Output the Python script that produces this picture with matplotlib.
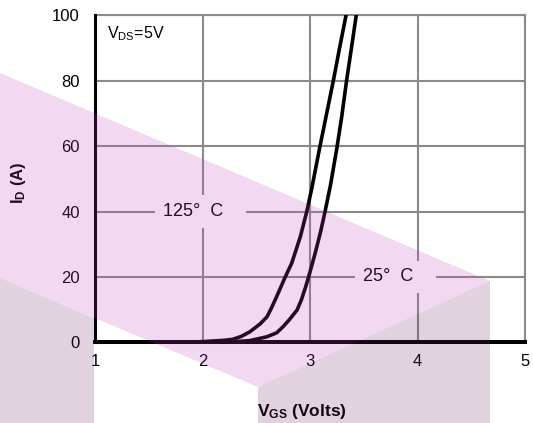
import numpy as np
import matplotlib
matplotlib.use('Agg')
import matplotlib.pyplot as plt
from matplotlib.patches import Polygon

plt.rcParams['font.family'] = ['Liberation Sans', 'DejaVu Sans']
plt.rcParams['mathtext.fontset'] = 'custom'
plt.rcParams['mathtext.rm'] = 'Liberation Sans'
plt.rcParams['mathtext.it'] = 'Liberation Sans'
plt.rcParams['mathtext.bf'] = 'Liberation Sans:bold'

# transfer curves
vgs_125 = [1.0, 1.8, 2.0, 2.2, 2.28, 2.36, 2.44, 2.535, 2.6, 2.64, 2.69, 2.73, 2.77, 2.83, 2.91, 2.97,
           3.016, 3.09, 3.155, 3.217, 3.275, 3.335, 3.35]
id_125 = [0, 0, 0.2, 0.6, 0.9, 1.8, 3.2, 5.6, 7.8, 10.4, 14, 17, 20, 24.2, 32.3, 40,
          47, 59.5, 70, 80, 90, 100, 103]
vgs_25 = [1.0, 2.2, 2.44, 2.6, 2.69, 2.75, 2.81, 2.88, 2.92, 2.96, 3.0, 3.05, 3.10, 3.14,
          3.19, 3.248, 3.295, 3.34, 3.39, 3.43, 3.44]
id_25 = [0, 0, 0.5, 1.7, 2.9, 4.8, 7, 9.9, 13, 17, 21.5, 27.5, 34, 40,
         48, 59, 69, 80, 91, 100, 103]

xticks = [1, 2, 3, 4, 5]
yticks = [0, 20, 40, 60, 80, 100]

W, H = 533, 423
fig = plt.figure(figsize=(W / 100, H / 100), dpi=100)
ax = fig.add_axes([95 / W, 1 - 342.3 / H, 430 / W, 326.9 / H])

ax.set_xlim(1, 5)
ax.set_ylim(0, 100)
ax.set_xticks(xticks)
ax.set_yticks(yticks)
ax.grid(True, color='#8a8a8a', lw=1.5)
ax.set_axisbelow(True)
ax.tick_params(length=0, labelsize=12)
ax.tick_params(axis='y', pad=11)
ax.tick_params(axis='x', pad=8.5)

for s in ['top', 'right']:
    ax.spines[s].set_color('#8a8a8a')
    ax.spines[s].set_linewidth(1.5)
ax.spines['left'].set_linewidth(2.2)
ax.spines['bottom'].set_linewidth(2.9)
ax.spines['left'].set_zorder(5)
ax.spines['bottom'].set_zorder(5)

ax.plot(vgs_125, id_125, color='black', lw=2.6, solid_capstyle='round', solid_joinstyle='round', zorder=4)
ax.plot(vgs_25, id_25, color='black', lw=2.6, solid_capstyle='round', solid_joinstyle='round', zorder=4)

box = dict(boxstyle='square,pad=0.42', fc='white', ec='none')
ax.text(1.63, 40, '125°  C   ', fontsize=13, ha='left', va='center', bbox=box, zorder=3)
ax.text(3.493, 20, '25°  C   ', fontsize=13, ha='left', va='center', bbox=box, zorder=3)
ax.text(1.114, 93.1, r'V$_{\mathrm{DS}}$=5V', fontsize=11.5, ha='left', va='baseline')

fig.text(18.5 / W, 1 - 183 / H, r'$\mathbf{I_D}$ (A)', rotation=90, fontsize=12,
         fontweight='bold', ha='center', va='center')
fig.text(301.5 / W, 1 - 416 / H, r'$\mathbf{V_{GS}}$ (Volts)', fontsize=12.5,
         fontweight='bold', ha='center', va='baseline')

# watermark shapes drawn over the chart
def px(pts):
    return [(x / W, 1 - y / H) for x, y in pts]

pink = [(0, 73), (490, 281), (258, 387), (0, 278)]
grey_r = [(258, 387), (490, 281), (490, 423), (258, 423)]
grey_l = [(0, 278), (94, 318), (94, 423), (0, 423)]
fig.add_artist(Polygon(px(pink), closed=True, transform=fig.transFigure,
                       fc=(194 / 255, 69 / 255, 189 / 255), alpha=0.2, ec='none', zorder=10))
for g in [grey_r, grey_l]:
    fig.add_artist(Polygon(px(g), closed=True, transform=fig.transFigure,
                           fc=(100 / 255, 38 / 255, 98 / 255), alpha=0.2, ec='none', zorder=10))

fig.savefig('out.png', dpi=100)
